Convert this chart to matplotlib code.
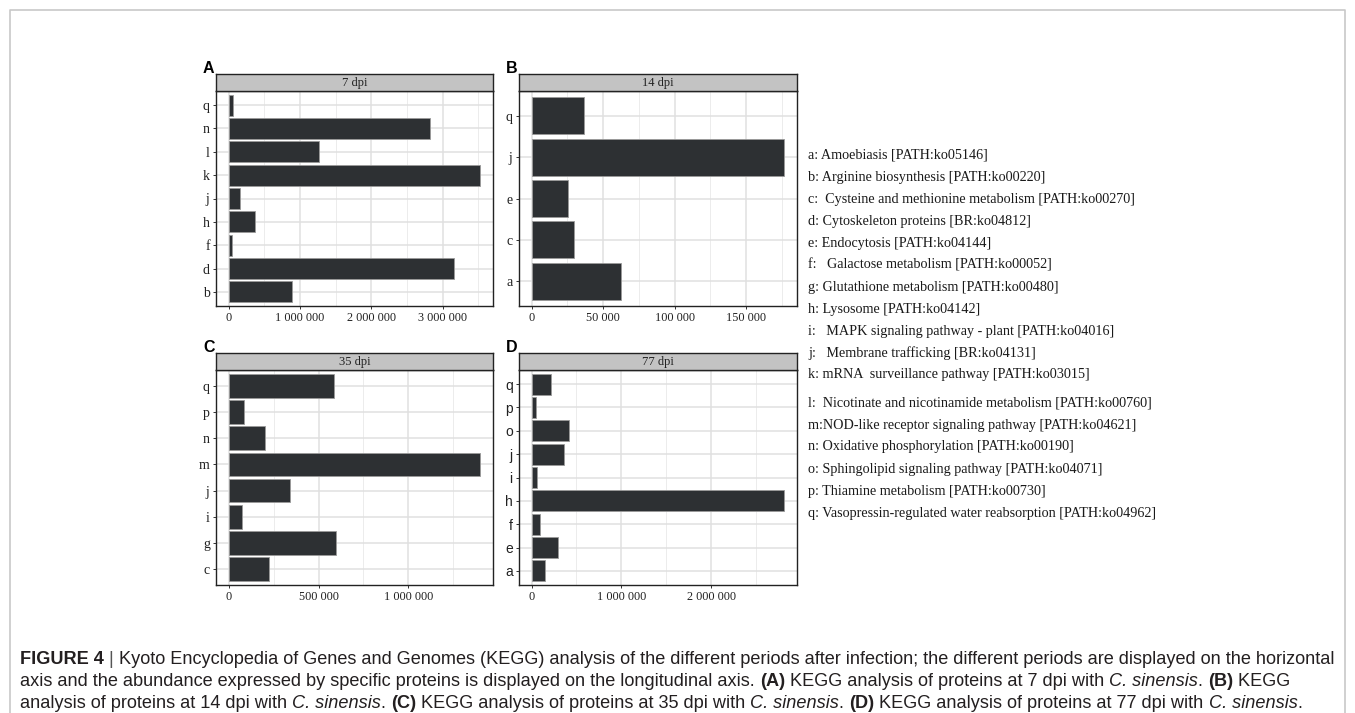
import numpy as np
import matplotlib.pyplot as plt
import matplotlib.patches as patches

W, H = 1355, 713  # pixels

# data, listed bottom -> top
cats_a = ['b', 'd', 'f', 'h', 'j', 'k', 'l', 'n', 'q']
vals_a = [885000, 3160000, 46000, 365000, 157000, 3530000, 1270000, 2830000, 60000]
cats_b = ['a', 'c', 'e', 'j', 'q']
vals_b = [62700, 29600, 25400, 176800, 36500]
cats_c = ['c', 'g', 'i', 'j', 'm', 'n', 'p', 'q']
vals_c = [224000, 599000, 77000, 344000, 1400000, 202000, 88000, 588000]
cats_d = ['a', 'e', 'f', 'h', 'i', 'j', 'o', 'p', 'q']
vals_d = [152000, 296000, 88000, 2818000, 55000, 359000, 418000, 51000, 218000]

periods = ['7 dpi', '14 dpi', '35 dpi', '77 dpi']
letters = ['A', 'B', 'C', 'D']
majors = [[0, 1000000, 2000000, 3000000],
          [0, 50000, 100000, 150000],
          [0, 500000, 1000000],
          [0, 1000000, 2000000]]
minor_step = [500000, 25000, 250000, 500000]

legend = ['a: Amoebiasis [PATH:ko05146]',
          'b: Arginine biosynthesis [PATH:ko00220]',
          'c:  Cysteine and methionine metabolism [PATH:ko00270]',
          'd: Cytoskeleton proteins [BR:ko04812]',
          'e: Endocytosis [PATH:ko04144]',
          'f:   Galactose metabolism [PATH:ko00052]',
          'g: Glutathione metabolism [PATH:ko00480]',
          'h: Lysosome [PATH:ko04142]',
          'i:   MAPK signaling pathway - plant [PATH:ko04016]',
          'j:   Membrane trafficking [BR:ko04131]',
          'k: mRNA  surveillance pathway [PATH:ko03015]',
          'l:  Nicotinate and nicotinamide metabolism [PATH:ko00760]',
          'm:NOD-like receptor signaling pathway [PATH:ko04621]',
          'n: Oxidative phosphorylation [PATH:ko00190]',
          'o: Sphingolipid signaling pathway [PATH:ko04071]',
          'p: Thiamine metabolism [PATH:ko00730]',
          'q: Vasopressin-regulated water reabsorption [PATH:ko04962]']

caption = [
    [('FIGURE 4', 'b'), (' | ', 'n'),
     ('Kyoto Encyclopedia of Genes and Genomes (KEGG) analysis of the different periods after infection; '
      'the different periods are displayed on the horizontal', 'n')],
    [('axis and the abundance expressed by specific proteins is displayed on the longitudinal axis. ', 'n'),
     ('(A)', 'b'), (' KEGG analysis of proteins at 7 dpi with ', 'n'), ('C. sinensis', 'i'), ('. ', 'n'),
     ('(B)', 'b'), (' KEGG', 'n')],
    [('analysis of proteins at 14 dpi with ', 'n'), ('C. sinensis', 'i'), ('. ', 'n'), ('(C)', 'b'),
     (' KEGG analysis of proteins at 35 dpi with ', 'n'), ('C. sinensis', 'i'), ('. ', 'n'), ('(D)', 'b'),
     (' KEGG analysis of proteins at 77 dpi with ', 'n'), ('C. sinensis', 'i'), ('.', 'n')],
]

SERIF = 'Liberation Serif'
SANS = 'Liberation Sans'
bar_col = '#2d3033'


def fx(x):
    return x / W


def fy(y):
    return 1 - y / H


def fmt(v):
    return '{:,}'.format(int(v)).replace(',', ' ')


fig = plt.figure(figsize=(W / 100, H / 100), dpi=100)

# figure frame (open at the bottom)
fig.add_artist(plt.Line2D([fx(10), fx(10), fx(1345), fx(1345)],
                          [fy(713), fy(10), fy(10), fy(713)],
                          color='#c8c8c8', lw=1.2))

# panel boxes: left, strip top, right, plot bottom
boxes = [(216, 74, 493, 306), (519, 74, 797, 306),
         (216, 353, 493, 585), (519, 353, 797, 585)]
strip_h = 17
data = [(cats_a, vals_a), (cats_b, vals_b), (cats_c, vals_c), (cats_d, vals_d)]

for k in range(4):
    l, t, r, b = boxes[k]
    cats, vals = data[k]
    ax = fig.add_axes([fx(l), fy(b), (r - l) / W, (b - t - strip_h) / H])
    y = np.arange(len(cats))
    vmax = max(vals)
    xmin, xmax = -0.05 * vmax, 1.05 * vmax
    # grid
    mn = np.arange(minor_step[k], xmax, 2 * minor_step[k])
    for v in mn:
        ax.axvline(v, color='#ececec', lw=0.7, zorder=0)
    for v in majors[k]:
        ax.axvline(v, color='#e0e0e0', lw=1.1, zorder=0)
    for yy in y:
        ax.axhline(yy, color='#e0e0e0', lw=1.1, zorder=0)
    ax.barh(y, vals, height=0.9, color=bar_col, edgecolor='#9a9a9a', lw=0.6, zorder=2)
    ax.set_xlim(xmin, xmax)
    ax.set_ylim(-0.6, len(cats) - 0.4)
    ax.set_xticks(majors[k])
    ax.set_xticklabels([fmt(v) for v in majors[k]], family=SERIF, fontsize=8.8, color='#222222')
    ax.set_yticks(y)
    ax.set_yticklabels(cats, family=SANS if k == 3 else SERIF,
                       fontsize=10, color='#222222')
    ax.tick_params(length=2.5, width=0.7, color='#333333', pad=2)
    for s in ax.spines.values():
        s.set_color('#222222')
        s.set_linewidth(1.0)

    # strip
    sx = fig.add_axes([fx(l), fy(t + strip_h), (r - l) / W, strip_h / H])
    sx.set_facecolor('#c3c3c3')
    sx.set_xticks([])
    sx.set_yticks([])
    for s in sx.spines.values():
        s.set_color('#222222')
        s.set_linewidth(1.0)
    sx.text(0.5, 0.45, periods[k], ha='center', va='center', family=SERIF,
            fontsize=9, color='#222222', transform=sx.transAxes)

    fig.text(fx(l - 13), fy(t - 1), letters[k], family=SANS, weight='bold',
             fontsize=11.5, ha='left', va='baseline')

# key of the pathway letters
ypos = []
yy = 155
for i in range(len(legend)):
    if i == 11:
        yy += 6
    ypos.append(yy)
    yy += 22
for i, s in enumerate(legend):
    fig.text(fx(808), fy(ypos[i]), s, family=SERIF, fontsize=10.2,
             color='#1a1a1a', ha='left', va='center')

# caption with mixed styles
renderer = fig.canvas.get_renderer()
cap_y = [659, 681, 703]
for line, cy in zip(caption, cap_y):
    x = 20
    for txt, st in line:
        kw = dict(family=SANS, fontsize=13.05, color='#231f20', ha='left', va='center')
        if st == 'b':
            kw['weight'] = 'bold'
        elif st == 'i':
            kw['style'] = 'italic'
        if txt == ' | ':
            kw['color'] = '#555555'
        t = fig.text(fx(x), fy(cy), txt, **kw)
        x += t.get_window_extent(renderer).width

fig.savefig('out.png', dpi=100)
